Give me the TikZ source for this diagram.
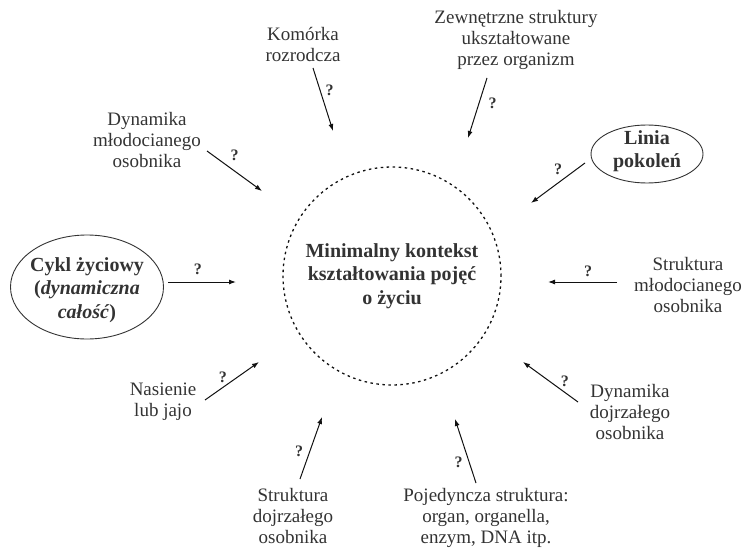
\documentclass[tikz,border=0pt]{standalone}
\usepackage{fontspec}
\setmainfont{Liberation Serif}
\usetikzlibrary{arrows.meta,positioning,shapes.geometric}
\definecolor{ink}{HTML}{333333}
\definecolor{edge}{HTML}{111111}
\tikzset{
  every node/.style={text=ink},
  txt/.style={align=center, font=\fontsize{19}{21}\selectfont, inner sep=0pt},
  keytxt/.style={align=center, font=\fontsize{20}{23.5}\selectfont\bfseries, inner sep=0pt},
  oval/.style={ellipse, draw=ink, line width=0.9pt, inner sep=0pt},
  core/.style={circle, draw=edge, line width=1.3pt, dash pattern=on 2.5pt off 3.5pt, minimum size=218pt},
  arrow/.style={-{Latex[length=7pt,width=5pt]}, line width=1pt, draw=edge},
  qm/.style={font=\fontsize{16}{16}\selectfont\bfseries, inner sep=1pt},
}

\begin{document}
\begin{tikzpicture}[x=1pt, y=-1pt]
\useasboundingbox (0,0) rectangle (746,548);
% centre
\node[core, keytxt] (ctr) at (392,276) {Minimalny kontekst\\kształtowania pojęć\\o życiu};
% surrounding notions
\node[txt] (kom) at (303,44) {Komórka\\rozrodcza};
\node[txt] (zew) at (516,40) {Zewnętrzne struktury\\ukształtowane\\przez organizm};
\node[txt] (dynm) at (147,140) {Dynamika\\młodocianego\\osobnika};
\node[oval, minimum width=112pt, minimum height=58pt] (linia) at (647,154) {};
\node[keytxt] (liniatxt) at (647,151) {Linia\\pokoleń};
\node[oval, minimum width=153pt, minimum height=104pt] (cykl) at (87,287) {};
\node[keytxt] (cykltxt) at (87,290) {Cykl życiowy\\(\textit{dynamiczna}\\\textit{całość})};
\node[txt] (strm) at (688,285) {Struktura\\młodocianego\\osobnika};
\node[txt] (dynd) at (630,412) {Dynamika\\dojrzałego\\osobnika};
\node[txt] (nas) at (163,402) {Nasienie\\lub jajo};
\node[txt] (strd) at (293,516) {Struktura\\dojrzałego\\osobnika};
\node[txt] (poj) at (486,518) {Pojedyncza struktura:\\organ, organella,\\enzym, DNA itp.};
% arrow ends
\coordinate (kom-out) at (313,68);   \coordinate (kom-in) at (333,131);
\coordinate (zew-out) at (487,78);   \coordinate (zew-in) at (468,138);
\coordinate (dynm-out) at (207,151); \coordinate (dynm-in) at (262,191);
\coordinate (linia-out) at (585,163);\coordinate (linia-in) at (531,203);
\coordinate (cykl-out) at (168,282); \coordinate (cykl-in) at (236,282);
\coordinate (strm-out) at (617,282); \coordinate (strm-in) at (548,282);
\coordinate (dynd-out) at (578,402); \coordinate (dynd-in) at (523,362);
\coordinate (nas-out) at (205,400);  \coordinate (nas-in) at (259,362);
\coordinate (strd-out) at (300,479); \coordinate (strd-in) at (322,417);
\coordinate (poj-out) at (476,483);  \coordinate (poj-in) at (455,419);
% arrows
\draw[arrow] (kom-out) -- (kom-in) node[qm, pos=.36, right=4pt] {?};
\draw[arrow] (zew-out) -- (zew-in) node[qm, pos=.42, right=8pt] {?};
\draw[arrow] (dynm-out) -- (dynm-in) node[qm, pos=.5, above=9pt] {?};
\draw[arrow] (linia-out) -- (linia-in) node[qm, pos=.5, above=7pt] {?};
\draw[arrow] (cykl-out) -- (cykl-in) node[qm, pos=.44, above=6pt] {?};
\draw[arrow] (strm-out) -- (strm-in) node[qm, pos=.42, above=4pt] {?};
\draw[arrow] (dynd-out) -- (dynd-in) node[qm, pos=.24, above=4pt] {?};
\draw[arrow] (nas-out) -- (nas-in) node[qm, pos=.33, above=3.5pt] {?};
\draw[arrow] (strd-out) -- (strd-in) node[qm, pos=.44, left=5pt] {?};
\draw[arrow] (poj-out) -- (poj-in) node[qm, pos=.33, left=5pt] {?};
\end{tikzpicture}
\end{document}
